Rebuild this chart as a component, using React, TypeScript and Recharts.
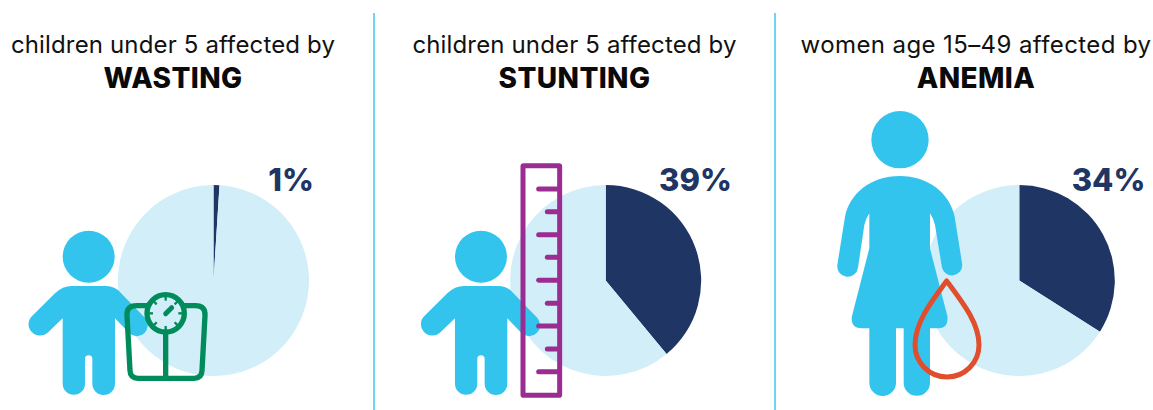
import { PieChart, Pie, Cell } from "recharts";

const panels = ["WASTING", "STUNTING", "ANEMIA"];
const subtitles = [
  "children under 5 affected by",
  "children under 5 affected by",
  "women age 15–49 affected by",
];
const affected = [1, 39, 34];

const NAVY = "#1f3564";
const PALE = "#d2eef9";
const SKY = "#33c4ee";
const RULE = "#6fd5f5";
const FONT = "Inter, sans-serif";

const pieCx = [213.5, 605.7, 1019.3];
const titleCx = [173, 574.5, 976];
const percentCx = [291, 695.5, 1108.5];
const subtitleSpacing = [0.15, 0.15, 0.4];

function sliceData(value: number) {
  return [
    { name: "affected", value },
    { name: "not affected", value: 100 - value },
  ];
}

function Child({ x }: { x: number }) {
  return (
    <g transform={`translate(${x},150) scale(0.33333)`} fill={SKY}>
      <circle cx={266} cy={320} r={78} />
      <path d="M215 408H318Q345 408 362 428L436 505A33 33 0 0 1 388 550L345 505V701A34 34 0 0 1 277 701V627A11 11 0 0 0 255 627V701A33.5 33.5 0 0 1 188 701V505L143 548A33 33 0 0 1 97 497L165 430Q188 408 215 408Z" />
    </g>
  );
}

function Scale() {
  const ticks = [0, 45, 90, 135, 180, 225, 270, 315];
  return (
    <g transform="translate(0,150) scale(0.33333)" fill="none" stroke="#008c5a" strokeWidth={16}>
      <path d="M410 467H586Q617 467 615 497L606 662Q605 685 582 685H414Q391 685 390 662L381 497Q379 467 410 467Z" />
      <line x1={497} y1={545} x2={497} y2={685} />
      <circle cx={497} cy={490} r={56} fill={PALE} />
      {ticks.map((deg) => (
        <line
          key={deg}
          x1={497}
          y1={440}
          x2={497}
          y2={452}
          strokeWidth={7}
          transform={`rotate(${deg} 497 490)`}
        />
      ))}
      <line x1={497} y1={491} x2={515} y2={473} strokeWidth={15} strokeLinecap="round" />
    </g>
  );
}

function Ruler() {
  const marks = [117, 185, 254, 322, 391, 460, 528, 597, 665];
  return (
    <g transform="translate(400,150) scale(0.33333)" fill="none" stroke="#9b2d92" strokeWidth={15}>
      <rect x={369} y={47} width={110} height={689} rx={2} />
      {marks.map((y, i) => (
        <line key={y} x1={472} y1={y} x2={i % 2 ? 442 : 416} y2={y} strokeLinecap="round" />
      ))}
    </g>
  );
}

function Woman() {
  return (
    <g transform="translate(800,100) scale(0.33333)">
      <circle cx={300} cy={119} r={86} fill={SKY} />
      <path
        fill={SKY}
        d="M299 228C385 228 450 280 464 350L487 495A31 31 0 0 1 426 503L405 375Q400 355 390 340V445L442 648Q447 685 415 685H390V848A39.5 39.5 0 0 1 311 848V685H288V848A40 40 0 0 1 208 848V685H185Q150 685 156 648L208 445V340Q198 355 193 375L174 503A31 31 0 0 1 112 495L135 350C149 280 213 228 299 228Z"
      />
      <path
        fill="none"
        stroke="#e04e2d"
        strokeWidth={15}
        strokeLinejoin="round"
        d="M440 543C490 610 537 670 537 735A96 96 0 0 1 345 735C345 670 390 610 440 543Z"
      />
    </g>
  );
}

export default function App() {
  return (
    <div style={{ position: "absolute", left: 0, top: 0, width: 1153, height: 410 }}>
      <PieChart width={1153} height={410} margin={{ top: 0, right: 0, bottom: 0, left: 0 }}>
        {panels.map((panel, i) => (
          <Pie
            key={panel}
            data={sliceData(affected[i])}
            dataKey="value"
            nameKey="name"
            cx={pieCx[i]}
            cy={280.5}
            outerRadius={95.5}
            startAngle={90}
            endAngle={-270}
            stroke="none"
            isAnimationActive={false}
          >
            <Cell fill={NAVY} />
            <Cell fill={PALE} />
          </Pie>
        ))}
      </PieChart>

      {/* figures and titles sit above the pies, so they get their own layer */}
      <svg
        width={1153}
        height={410}
        style={{ position: "absolute", left: 0, top: 0, pointerEvents: "none" }}
      >
        <line x1={374} y1={13} x2={374} y2={410} stroke={RULE} strokeWidth={2} />
        <line x1={775} y1={13} x2={775} y2={410} stroke={RULE} strokeWidth={2} />

        <Child x={0} />
        <Scale />
        <Child x={392.3} />
        <Ruler />
        <Woman />

        {panels.map((panel, i) => (
          <g key={panel} textAnchor="middle" fontFamily={FONT}>
            <text
              x={titleCx[i]}
              y={53}
              fontSize={24}
              letterSpacing={subtitleSpacing[i]}
              fill="#111"
            >
              {subtitles[i]}
            </text>
            <text
              x={titleCx[i]}
              y={88}
              fontSize={28}
              fontWeight={800}
              letterSpacing={0.4}
              fill="#0a0a0a"
            >
              {panel}
            </text>
            <text x={percentCx[i]} y={191} fontSize={31} fontWeight={800} fill={NAVY}>
              {affected[i]}%
            </text>
          </g>
        ))}
      </svg>
    </div>
  );
}
